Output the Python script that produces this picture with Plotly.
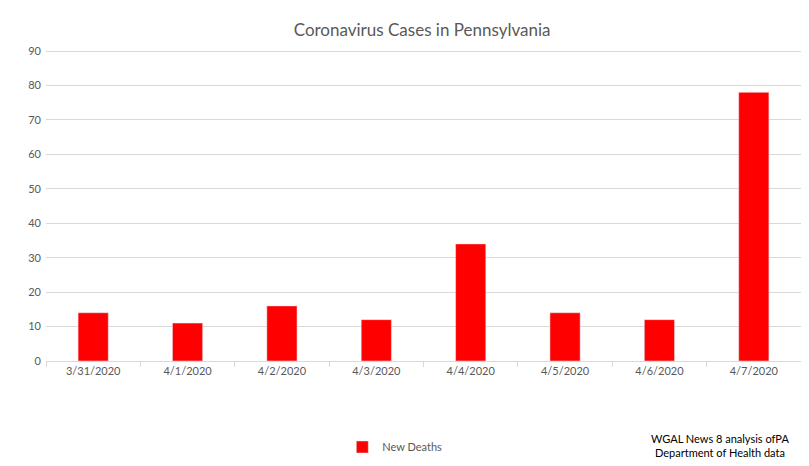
import plotly.graph_objects as go

# Daily new deaths
dates = ['3/31/2020', '4/1/2020', '4/2/2020', '4/3/2020',
         '4/4/2020', '4/5/2020', '4/6/2020', '4/7/2020']
new_deaths = [14, 11, 16, 12, 34, 14, 12, 78]
y_ticks = [0, 10, 20, 30, 40, 50, 60, 70, 80, 90]

font_family = 'Lato, Open Sans, sans-serif'
grey = '#595959'
grid = '#d9d9d9'

fig = go.Figure()
fig.add_trace(go.Bar(
    x=dates,
    y=new_deaths,
    name='New Deaths',
    marker_color='#ff0000',
))

# page has an 8px body margin, so the figure is a bit smaller than the window
fig.update_layout(
    width=801, height=458,
    margin=dict(l=38, r=8, t=42, b=105, autoexpand=False),
    paper_bgcolor='white', plot_bgcolor='white',
    bargap=0.68,
    font=dict(family=font_family, color=grey, size=11),
    title=dict(text='Coronavirus Cases in Pennsylvania',
               x=0.517, xanchor='center', y=0.952, yanchor='middle',
               font=dict(size=17, color=grey)),
    showlegend=True,
    legend=dict(orientation='h', x=0.462, xanchor='center',
                yref='container', y=0.0415, yanchor='middle',
                font=dict(size=11, color=grey)),
)

fig.update_xaxes(
    type='category', automargin=False,
    showline=True, linecolor=grid, linewidth=1,
    ticks='outside', tickson='boundaries', ticklen=5, tickcolor=grid,
    showgrid=False,
    tickfont=dict(size=11, color=grey),
)
fig.update_yaxes(
    range=[0, 90.3], tickvals=y_ticks, automargin=False,
    showgrid=True, gridcolor=grid, gridwidth=1,
    zeroline=False, showline=False,
    ticks='', ticklen=0, ticklabelstandoff=4,
    tickfont=dict(size=11, color=grey),
)

# source note in the bottom right corner
fig.add_annotation(
    text='WGAL News 8 analysis ofPA<br>Department of Health data',
    xref='paper', yref='paper', x=0.893, y=-0.271,
    xanchor='center', yanchor='middle', showarrow=False,
    font=dict(size=11, color='#000000', family=font_family),
)

fig.write_html('out.html')
